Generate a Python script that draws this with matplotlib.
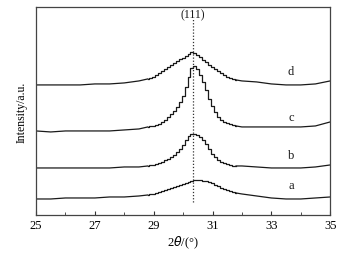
import numpy as np
import matplotlib
matplotlib.use("Agg")
import matplotlib.pyplot as plt

plt.rcParams['font.family'] = ['Liberation Serif', 'DejaVu Serif']

# 2theta sampling: coarse outside the peak, fine across it
theta_left = [25.0, 25.5, 26.0, 26.5, 27.0, 27.5, 28.0, 28.5]
theta_peak = [28.8, 28.9, 29.0, 29.1, 29.2, 29.3, 29.4, 29.5, 29.6, 29.7,
              29.8, 29.9, 30.0, 30.1, 30.2, 30.3, 30.4, 30.5, 30.6, 30.7,
              30.8, 30.9, 31.0, 31.1, 31.2, 31.3, 31.4, 31.5, 31.6, 31.7, 31.8]
theta_right = [32.0, 32.5, 33.0, 33.5, 34.0, 34.5, 35.0]

# intensities (already offset for stacking)
int_a = [16, 16, 17, 17, 17, 18, 18, 19,
         20, 21, 21, 22, 23, 24, 25, 26, 27, 28,
         29, 30, 31, 32, 33, 34, 35, 35, 35, 34,
         34, 33, 32, 30, 29, 27, 26, 25, 24, 23, 22,
         21, 19, 17, 16, 16, 17, 18]
int_b = [47, 47, 47, 47, 47, 47, 48, 48,
         49, 50, 50, 51, 52, 53, 55, 56, 58, 60,
         63, 66, 70, 75, 79, 81, 81, 80, 78, 75,
         71, 66, 61, 58, 55, 53, 52, 51, 50, 49, 49,
         49, 48, 47, 47, 47, 48, 50]
int_c = [84, 83, 84, 84, 84, 84, 85, 86,
         88, 89, 89, 90, 91, 93, 95, 98, 101, 104,
         108, 113, 119, 128, 138, 147, 149, 146, 140, 133,
         125, 116, 109, 103, 98, 95, 93, 92, 91, 90, 89,
         88, 88, 88, 88, 88, 89, 93]
int_d = [130, 130, 130, 130, 131, 131, 132, 134,
         136, 137, 138, 140, 142, 144, 146, 148, 150, 152,
         154, 156, 157, 159, 161, 163, 162, 160, 158, 155,
         153, 150, 148, 146, 144, 142, 140, 138, 137, 136, 135,
         134, 133, 131, 130, 130, 131, 134]

labels = ['a', 'b', 'c', 'd']
label_y = [30, 60, 98, 144]
peak_pos = 30.33

fig = plt.figure(figsize=(3.64, 2.55), dpi=100)
ax = fig.add_axes([0.099, 0.153, 0.808, 0.816])

theta = np.array(theta_left + theta_peak + theta_right)
n1 = len(theta_left)
n2 = n1 + len(theta_peak)
col = '#1a1a1a'
for ys, lab, ly in zip([int_a, int_b, int_c, int_d], labels, label_y):
    ys = np.array(ys)
    ax.plot(theta[:n1 + 1], ys[:n1 + 1], color=col, lw=0.9)
    ax.plot(theta[n1:n2], ys[n1:n2], color=col, lw=0.9, drawstyle='steps-mid')
    ax.plot(theta[n2 - 1:], ys[n2 - 1:], color=col, lw=0.9)
    ax.text(33.67, ly, lab, fontsize=9, ha='center', va='center', color=col)

ax.plot([peak_pos, peak_pos], [13, 196], color='#333333', lw=0.9, ls=(0, (1, 1.5)))
ax.text(peak_pos, 201, '(111)', fontsize=8.5, ha='center', va='center', color=col)

ax.set_xlim(25, 35)
ax.set_ylim(0, 208)
ax.set_xticks([25, 27, 29, 31, 33, 35])
ax.set_xticks([26, 28, 30, 32, 34], minor=True)
ax.tick_params(axis='x', which='both', direction='in', top=False, labelsize=9,
               pad=3, color='#333333')
ax.tick_params(axis='x', which='major', length=3)
ax.tick_params(axis='x', which='minor', length=2)
ax.set_yticks([])
for s in ax.spines.values():
    s.set_color('#444444')
    s.set_linewidth(0.9)

ax.set_xlabel(r'2$\it{\theta}$/(°)', fontsize=9, labelpad=2)
ax.set_ylabel('Intensity/a.u.', fontsize=8.5, labelpad=6)

fig.savefig('out.png', dpi=100)
